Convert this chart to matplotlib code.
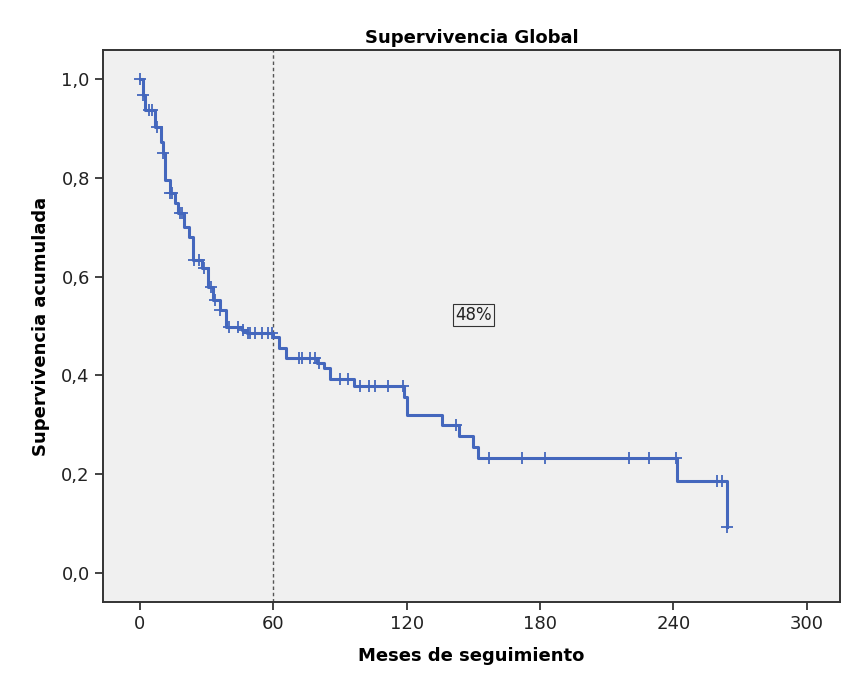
import numpy as np
import matplotlib
matplotlib.use("Agg")
import matplotlib.pyplot as plt

# Kaplan-Meier step data (months, cumulative survival)
event_times = [0, 1.5, 2.2, 6.7, 9.5, 10.2, 11.2, 13.5, 15.7, 17, 20, 22, 24, 28, 30.6,
               33, 36, 38.7, 46, 48, 60, 62.5, 65.7, 79.6, 83, 85.5, 96.3, 119, 120,
               136, 143.5, 150, 152, 241.5, 264]
event_surv = [1.0, 0.967, 0.937, 0.903, 0.872, 0.85, 0.795, 0.77, 0.749, 0.728, 0.70,
              0.68, 0.634, 0.617, 0.579, 0.553, 0.532, 0.498, 0.492, 0.486, 0.478, 0.455,
              0.435, 0.425, 0.415, 0.393, 0.378, 0.356, 0.32, 0.30, 0.277, 0.255, 0.233,
              0.186, 0.093]
censor_times = [0, 1.5, 4, 5.5, 7.5, 10.2, 13.5, 14.5, 18, 19, 24.5, 26.5, 29, 32, 34, 36,
                40, 44, 46.5, 48.5, 49.5, 51.7, 55, 57.6, 59.5, 71.5, 73, 76.5, 78.7, 80.5,
                90, 93.5, 99, 103, 105.7, 111.5, 118.3, 142, 157, 172, 182, 220, 229, 241,
                259.5, 262, 264]

x_ticks = [0, 60, 120, 180, 240, 300]
y_ticks = [0.0, 0.2, 0.4, 0.6, 0.8, 1.0]
y_ticklabels = ["0,0", "0,2", "0,4", "0,6", "0,8", "1,0"]

def surv_at(t):
    idx = np.searchsorted(event_times, t, side="right") - 1
    return event_surv[max(idx, 0)]

blue = "#4467bd"
fig = plt.figure(figsize=(8.42, 6.81), dpi=100)
ax = fig.add_axes([0.1223, 0.116, 0.8753, 0.8106])
ax.set_facecolor("#f0f0f0")

ax.step(event_times, event_surv, where="post", color=blue, lw=2.2, zorder=3)
cy = [surv_at(t) for t in censor_times]
ax.plot(censor_times, cy, linestyle="none", marker="+", color=blue,
        markersize=8, markeredgewidth=1.3, zorder=4)

ax.axvline(60, color="#555555", lw=1.0, linestyle=(0, (2.5, 2)), zorder=2)

ax.text(150, 0.522, "48%", ha="center", va="center", fontsize=12, color="#222222",
        bbox=dict(boxstyle="square,pad=0.12", facecolor="none", edgecolor="#333333", lw=0.8))

ax.set_xlim(-16.6, 314.9)
ax.set_ylim(-0.0587, 1.0587)
ax.set_xticks(x_ticks)
ax.set_xticklabels([str(v) for v in x_ticks])
ax.set_yticks(y_ticks)
ax.set_yticklabels(y_ticklabels)
ax.tick_params(direction="out", length=6, width=1.2, labelsize=13, colors="#222222")

for s in ax.spines.values():
    s.set_color("#333333")
    s.set_linewidth(1.4)

ax.set_title("Supervivencia Global", fontsize=13, fontweight="bold", pad=5)
ax.set_xlabel("Meses de seguimiento", fontsize=13, fontweight="bold", labelpad=10)
ax.set_ylabel("Supervivencia acumulada", fontsize=13, fontweight="bold", labelpad=8)

fig.savefig("out.png", dpi=100)
